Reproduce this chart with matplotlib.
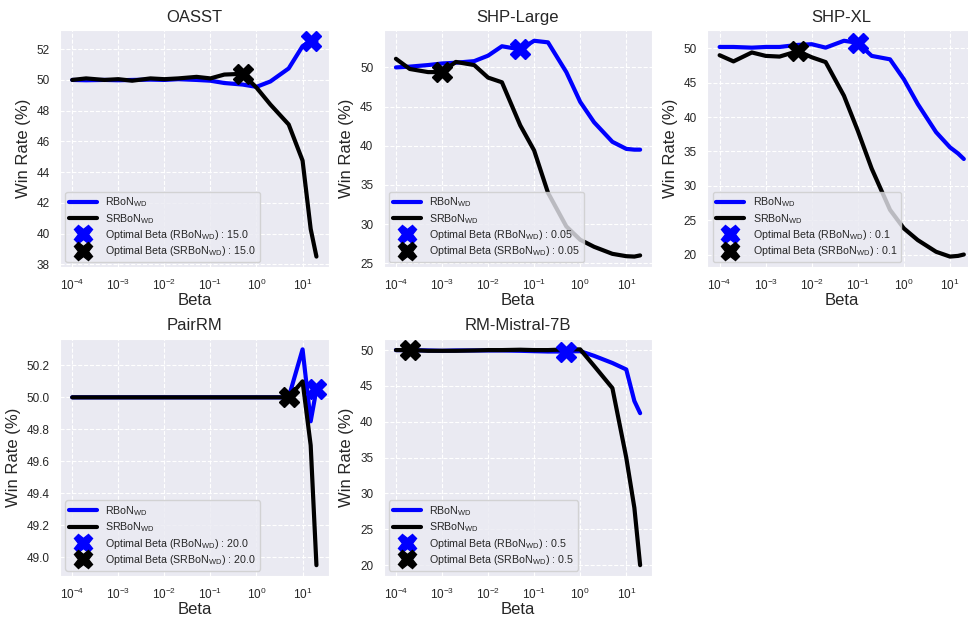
import matplotlib
matplotlib.use("Agg")
import matplotlib.pyplot as plt
import numpy as np
import seaborn as sns

sns.set_style("darkgrid", {"grid.linestyle": "--"})
plt.rcParams["font.family"] = ["Liberation Sans", "DejaVu Sans"]
plt.rcParams["mathtext.fontset"] = "custom"
plt.rcParams["mathtext.rm"] = "Liberation Sans"
plt.rcParams["mathtext.it"] = "Liberation Sans:italic"
plt.rcParams["mathtext.bf"] = "Liberation Sans:bold"

# data
betas = [1e-4, 2e-4, 5e-4, 1e-3, 2e-3, 5e-3, 1e-2, 2e-2, 5e-2, 0.1, 0.2, 0.5, 1, 2, 5, 10, 15, 20]

titles = ["OASST", "SHP-Large", "SHP-XL", "PairRM", "RM-Mistral-7B"]

oasst_rbon = [50.0, 49.98, 50.0, 49.98, 50.0, 50.02, 50.0, 50.05, 50.0, 49.95, 49.8, 49.7, 49.55, 49.9, 50.75, 52.2, 52.55, 52.5]
oasst_srbon = [50.0, 50.1, 50.0, 50.05, 49.95, 50.1, 50.05, 50.1, 50.2, 50.1, 50.35, 50.4, 49.5, 48.4, 47.1, 44.75, 40.3, 38.5]

shpl_rbon = [50.0, 50.1, 50.3, 50.5, 50.6, 50.8, 51.5, 52.7, 52.3, 53.4, 53.2, 49.4, 45.6, 43.0, 40.5, 39.6, 39.5, 39.5]
shpl_srbon = [51.1, 49.8, 49.4, 49.4, 50.7, 50.3, 48.7, 48.1, 42.6, 39.4, 34.0, 29.7, 28.0, 27.1, 26.2, 25.9, 25.85, 26.0]

shpxl_rbon = [50.2, 50.2, 50.1, 50.2, 50.2, 50.5, 50.6, 50.1, 51.1, 50.8, 48.9, 48.4, 45.5, 41.9, 37.8, 35.6, 34.7, 33.9]
shpxl_srbon = [49.0, 48.1, 49.4, 48.9, 48.8, 49.6, 48.7, 48.0, 43.1, 38.0, 32.5, 26.5, 23.8, 22.1, 20.4, 19.7, 19.8, 20.0]

pairrm_rbon = [50.0] * 15 + [50.3, 49.85, 50.05]
pairrm_srbon = [50.0] * 15 + [50.1, 49.7, 48.95]

mistral_rbon = [50.0, 50.0, 49.95, 49.9, 49.95, 49.95, 49.95, 49.95, 49.9, 49.85, 49.8, 49.8, 49.85, 49.2, 48.2, 47.3, 42.9, 41.2]
mistral_srbon = [50.0, 50.0, 49.9, 49.9, 49.9, 49.95, 50.0, 50.0, 50.05, 50.0, 50.0, 50.1, 50.1, 47.8, 44.7, 35.0, 28.0, 20.0]

rbon_series = [oasst_rbon, shpl_rbon, shpxl_rbon, pairrm_rbon, mistral_rbon]
srbon_series = [oasst_srbon, shpl_srbon, shpxl_srbon, pairrm_srbon, mistral_srbon]

# where the X markers sit
rbon_best = [15, 0.05, 0.1, 20, 0.5]
srbon_best = [0.5, 1e-3, 5e-3, 5, 2e-4]
# what the legends say
legend_vals = ["15.0", "0.05", "0.1", "20.0", "0.5"]

fig, axes = plt.subplots(2, 3, figsize=(9.68, 6.17), dpi=100)
fig.subplots_adjust(left=0.062, right=1.0083, top=0.9514, bottom=0.0665,
                    wspace=0.205, hspace=0.30)
axes = axes.flatten()

wd = r"$_{\mathrm{WD}}$"
for i in range(5):
    ax = axes[i]
    ax.plot(betas, rbon_series[i], color="blue", lw=3, label="RBoN" + wd)
    ax.plot(betas, srbon_series[i], color="black", lw=3, label="SRBoN" + wd)
    j = betas.index(rbon_best[i])
    ax.plot(betas[j], rbon_series[i][j], "X", color="blue", ms=15, ls="none",
            label="Optimal Beta (RBoN" + wd + ") : " + legend_vals[i])
    k = betas.index(srbon_best[i])
    ax.plot(betas[k], srbon_series[i][k], "X", color="black", ms=15, ls="none",
            label="Optimal Beta (SRBoN" + wd + ") : " + legend_vals[i])
    ax.set_xscale("log")
    ax.set_title(titles[i], fontsize=12)
    ax.set_xlabel("Beta", fontsize=12, labelpad=0)
    ax.set_ylabel("Win Rate (%)", fontsize=12)
    ax.tick_params(labelsize=8.5, pad=4)
    ax.grid(True, which="major", color="white", ls="--", lw=0.8)
    ax.legend(loc="lower left", fontsize=7.7, labelspacing=0.22,
              markerscale=0.9, handlelength=2.6, borderpad=0.35)

axes[5].axis("off")

fig.savefig("out.png", dpi=100)
